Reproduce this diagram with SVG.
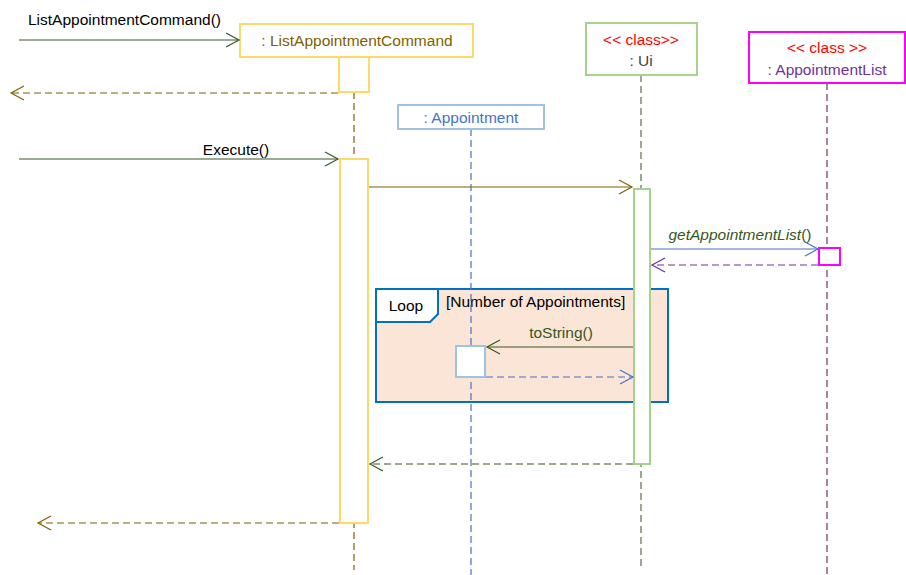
<svg xmlns="http://www.w3.org/2000/svg" width="906" height="575" viewBox="0 0 906 575">
<style>
text{font-family:"Liberation Sans",Arial,sans-serif;font-size:15.5px}
.c{text-anchor:middle}
.life{fill:none;stroke-width:1.2;stroke-dasharray:7 4}
.ret{fill:none;stroke-width:1.2;stroke-dasharray:7 4}
.msg{fill:none;stroke-width:1.2}
.ah{fill:none;stroke-width:1.2}
</style>
<rect width="906" height="575" fill="#fff"/>
<g id="loop">
<rect x="376" y="289" width="292" height="113" fill="#FBE5D6" stroke="#0070C0" stroke-width="2"/>
<path d="M376,289 H438 V314 L430,322 H376 Z" fill="#fff" stroke="#0070C0" stroke-width="2"/>
<text x="406" y="311" class="c" fill="#000">Loop</text>
<text x="446" y="307" fill="#000">[Number of Appointments]</text>
</g>
<g id="lifelines">
<line x1="354" y1="92" x2="354" y2="570" class="life" stroke="#7F6000"/>
<line x1="471" y1="129" x2="471" y2="575" class="life" stroke="#4472C4"/>
<line x1="641" y1="75" x2="641" y2="570" class="life" stroke="#596E50"/>
<line x1="827" y1="83" x2="827" y2="575" class="life" stroke="#70306A"/>
</g>
<g id="listAppointmentCommand">
<rect x="240" y="24" width="233" height="33" fill="#fff" stroke="#FFD966" stroke-width="2"/>
<text x="357" y="46" class="c" fill="#7F6000">: ListAppointmentCommand</text>
<rect x="339" y="57" width="30" height="35" fill="#fff" stroke="#FFD966" stroke-width="2"/>
<rect x="340" y="159" width="28" height="364" fill="#fff" stroke="#FFD966" stroke-width="2"/>
</g>
<g id="appointment">
<rect x="398" y="105" width="146" height="24" fill="#fff" stroke="#9DC3E6" stroke-width="2"/>
<text x="471" y="123" class="c" fill="#4472C4">: Appointment</text>
<rect x="456" y="346" width="29" height="31" fill="#fff" stroke="#9DC3E6" stroke-width="2"/>
</g>
<g id="ui">
<rect x="586" y="23" width="111" height="52" fill="#fff" stroke="#A9D18E" stroke-width="2"/>
<text x="641" y="45" class="c" fill="#FF0000">&lt;&lt; class&gt;&gt;</text>
<text x="641" y="66" class="c" fill="#404040">: Ui</text>
<rect x="634" y="189" width="16" height="275" fill="#fff" stroke="#A9D18E" stroke-width="2"/>
</g>
<g id="appointmentList">
<rect x="749" y="32" width="156" height="51" fill="#fff" stroke="#FF00FF" stroke-width="2"/>
<text x="827" y="53" class="c" fill="#FF0000">&lt;&lt; class &gt;&gt;</text>
<text x="827" y="75" class="c" fill="#7030A0">: AppointmentList</text>
<rect x="819" y="248" width="21" height="17" fill="#fff" stroke="#FF00FF" stroke-width="2"/>
</g>
<g id="connectors">
<text x="28" y="25" fill="#000">ListAppointmentCommand()</text>
<line x1="19" y1="40" x2="239" y2="40" class="msg" stroke="#385723"/>
<path d="M226,33 L239,40 L226,47" class="ah" stroke="#385723"/>
<line x1="338" y1="93" x2="11" y2="93" class="ret" stroke="#7F6000"/>
<path d="M24,86 L11,93 L24,100" class="ah" stroke="#7F6000"/>
<text x="236" y="155" class="c" fill="#000">Execute()</text>
<line x1="19" y1="159" x2="338" y2="159" class="msg" stroke="#385723"/>
<path d="M325,152 L338,159 L325,166" class="ah" stroke="#385723"/>
<line x1="369" y1="187" x2="632" y2="187" class="msg" stroke="#7F6000"/>
<path d="M619,180 L632,187 L619,194" class="ah" stroke="#7F6000"/>
<text x="740" y="240" class="c" fill="#385723"><tspan font-style="italic">getAppointmentList</tspan>()</text>
<line x1="651" y1="249" x2="818" y2="249" class="msg" stroke="#4472C4"/>
<path d="M805,242 L818,249 L805,256" class="ah" stroke="#4472C4"/>
<line x1="818" y1="265" x2="652" y2="265" class="ret" stroke="#7030A0"/>
<path d="M665,258 L652,265 L665,272" class="ah" stroke="#7030A0"/>
<text x="561" y="338" class="c" fill="#385723">toString()</text>
<line x1="633" y1="347" x2="487" y2="347" class="msg" stroke="#385723"/>
<path d="M500,340 L487,347 L500,354" class="ah" stroke="#385723"/>
<line x1="486" y1="377" x2="633" y2="377" class="ret" stroke="#4472C4"/>
<path d="M620,370 L633,377 L620,384" class="ah" stroke="#4472C4"/>
<line x1="633" y1="464" x2="370" y2="464" class="ret" stroke="#385723"/>
<path d="M383,457 L370,464 L383,471" class="ah" stroke="#385723"/>
<line x1="339" y1="523" x2="38" y2="523" class="ret" stroke="#7F6000"/>
<path d="M51,516 L38,523 L51,530" class="ah" stroke="#7F6000"/>
</g>
</svg>
